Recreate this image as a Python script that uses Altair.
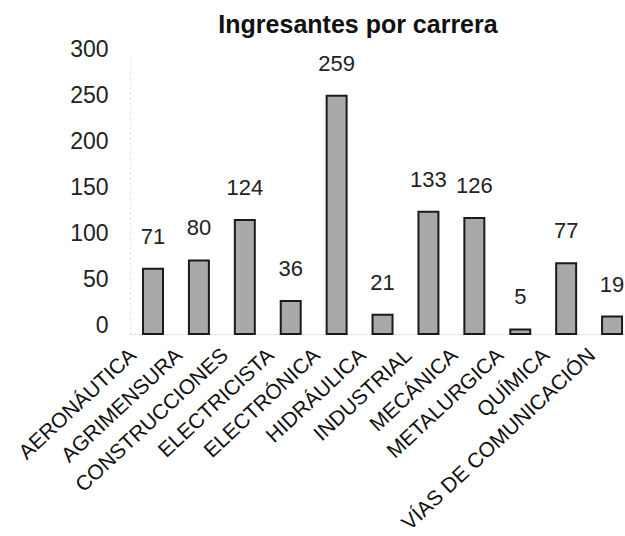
import altair as alt
import pandas as pd

carreras = ["AERONÁUTICA", "AGRIMENSURA", "CONSTRUCCIONES", "ELECTRICISTA",
            "ELECTRÓNICA", "HIDRÁULICA", "INDUSTRIAL", "MECÁNICA",
            "METALURGICA", "QUÍMICA", "VÍAS DE COMUNICACIÓN"]
ingresantes = [71, 80, 124, 36, 259, 21, 133, 126, 5, 77, 19]
y_ticks = [0, 50, 100, 150, 200, 250, 300]

df = pd.DataFrame({"carrera": carreras, "valor": ingresantes})
FONT = "Liberation Sans"

x_enc = alt.X("carrera:N", sort=carreras, title=None,
              scale=alt.Scale(paddingInner=0.565, paddingOuter=0.163, align=0.87),
              axis=alt.Axis(labelAngle=-43, labelAlign="right", labelBaseline="top",
                            labelOffset=-27, labelPadding=10, labelFontSize=21,
                            labelFont=FONT, labelColor="#111", ticks=False,
                            domainColor="#e6cbd6", domainDash=[2, 2], domainWidth=1,
                            labelOverlap=False, labelLimit=400))
y_enc = alt.Y("valor:Q", title=None,
              scale=alt.Scale(domain=[0, 300], nice=False),
              axis=alt.Axis(values=y_ticks, grid=False, ticks=False,
                            labelFontSize=23, labelFont=FONT, labelColor="#222",
                            labelPadding=22, labelOffset=-9,
                            domainColor="#dddddd", domainDash=[2, 3], domainWidth=1))

bars = alt.Chart(df).mark_bar(fill="#a9a9a9", stroke="#1a1a1a", strokeWidth=2).encode(
    x=x_enc, y=y_enc)

labels = alt.Chart(df).mark_text(baseline="middle", align="center", dy=-32,
                                 fontSize=22, font=FONT, color="#222").encode(
    x=alt.X("carrera:N", sort=carreras), y="valor:Q", text="valor:Q")

chart = alt.layer(bars, labels).properties(
    width=494, height=276,
    title=alt.TitleParams("Ingresantes por carrera", fontSize=25, font=FONT,
                          fontWeight="bold", color="#111", anchor="middle",
                          dx=-19, offset=0),
    autosize=alt.AutoSizeParams(type="none"),
    padding={"left": 130, "top": 58, "right": 1, "bottom": 202},
).configure_view(stroke=None).configure_axis(labelFont=FONT)

chart.save("out.html", embed_options={"renderer": "svg", "actions": False})
